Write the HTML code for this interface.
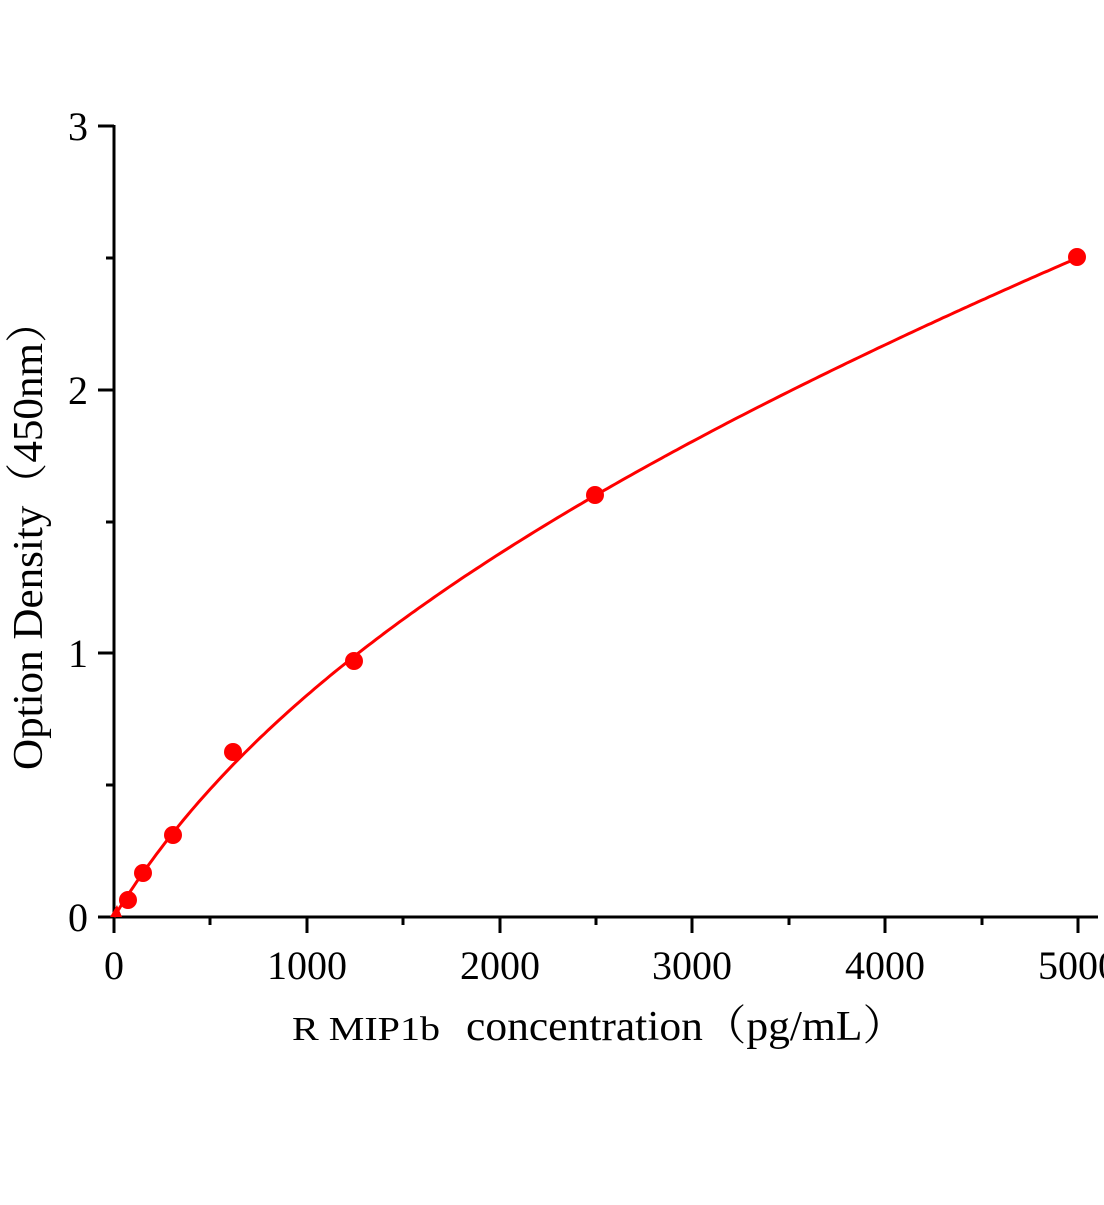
<!DOCTYPE html>
<html><head><meta charset="utf-8"><style>
html,body{margin:0;padding:0;background:#fff;}
svg text{font-family:"Liberation Serif","Noto Serif CJK SC",serif;fill:#000;}
</style></head><body>
<svg id="s" width="1104" height="1200" xmlns="http://www.w3.org/2000/svg">
<g stroke="#000" stroke-width="3" fill="none">
<line x1="98" y1="917" x2="1098" y2="917"/>
<line x1="114" y1="125" x2="114" y2="933"/>
<line x1="98" y1="126" x2="114" y2="126"/>
<line x1="98" y1="390" x2="114" y2="390"/>
<line x1="98" y1="653" x2="114" y2="653"/>
<line x1="106" y1="258" x2="114" y2="258"/>
<line x1="106" y1="522" x2="114" y2="522"/>
<line x1="106" y1="785" x2="114" y2="785"/>
<line x1="307" y1="917" x2="307" y2="933"/>
<line x1="500" y1="917" x2="500" y2="933"/>
<line x1="692" y1="917" x2="692" y2="933"/>
<line x1="885" y1="917" x2="885" y2="933"/>
<line x1="1078" y1="917" x2="1078" y2="933"/>
<line x1="210" y1="917" x2="210" y2="925"/>
<line x1="403" y1="917" x2="403" y2="925"/>
<line x1="596" y1="917" x2="596" y2="925"/>
<line x1="789" y1="917" x2="789" y2="925"/>
<line x1="982" y1="917" x2="982" y2="925"/>
</g>
<g font-size="40" text-anchor="end">
<text x="88" y="140">3</text><text x="88" y="404">2</text><text x="88" y="667">1</text><text x="88" y="931">0</text>
</g>
<g font-size="40" text-anchor="middle">
<text x="114" y="979">0</text><text x="307" y="979">1000</text><text x="500" y="979">2000</text><text x="692" y="979">3000</text><text x="885" y="979">4000</text><text x="1078" y="979">5000</text>
</g>
<text x="292" y="1040" font-size="34" textLength="148" lengthAdjust="spacingAndGlyphs">R MIP1b</text>
<text x="466" y="1040" font-size="42" textLength="440" lengthAdjust="spacingAndGlyphs">concentration（pg/mL）</text>
<text transform="translate(42,535) rotate(-90)" font-size="42" text-anchor="middle" textLength="470" lengthAdjust="spacingAndGlyphs">Option Density（450nm）</text>
<path id="c" fill="none" stroke="#f00" stroke-width="3"/>
<g fill="#f00">
<circle cx="128" cy="900" r="9"/><circle cx="143" cy="873" r="9"/><circle cx="173" cy="835" r="9"/><circle cx="233" cy="752" r="9"/><circle cx="354" cy="661" r="9"/><circle cx="595" cy="495" r="9"/><circle cx="1077" cy="257" r="9"/>
<path d="M110,917 L117,905 L122,917 Z"/>
</g>
</svg>
<script>
var d="";
for(var x=0;x<=5000;x+=20){var od=0.8206*Math.log(1+x/800)+1.749e-4*x;var px=114+x*0.1928,py=917-od*263.7;d+=(x?" L":"M")+px.toFixed(1)+","+py.toFixed(1);}
document.getElementById("c").setAttribute("d",d);
</script>
</body></html>
